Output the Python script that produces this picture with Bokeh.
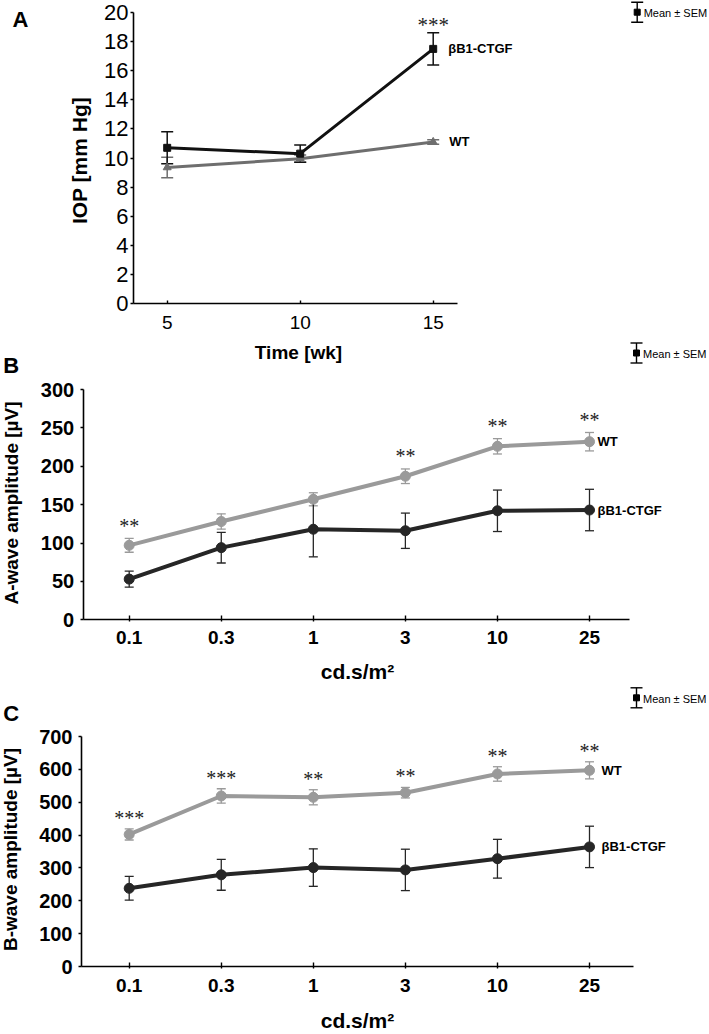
import math
from bokeh.plotting import figure
from bokeh.models import Range1d, LinearAxis, FixedTicker, ColumnDataSource, Whisker, TeeHead
from bokeh.core.properties import value
from bokeh.embed import file_html
from bokeh.resources import INLINE

FONT = "Liberation Sans"
STAR_FONT = "Liberation Serif"

# ---------------- data ----------------
weeks = [5, 10, 15]
iop_ctgf = [10.7, 10.3, 17.5]
iop_ctgf_sem = [1.1, 0.6, 1.1]
iop_wt = [9.35, 9.95, 11.1]
iop_wt_sem = [0.7, 0.25, 0.15]
iop_stars = ["", "", "***"]
iop_ticks = [0, 2, 4, 6, 8, 10, 12, 14, 16, 18, 20]

intensities = ["0.1", "0.3", "1", "3", "10", "25"]
awave_wt = [97, 128, 157, 187, 226, 232]
awave_wt_sem = [9, 10, 8.5, 9.5, 10, 12]
awave_ctgf = [53, 94, 118, 116, 142, 143]
awave_ctgf_sem = [10.5, 20, 36, 23, 27, 27]
awave_stars = ["**", "", "", "**", "**", "**"]
awave_ticks = [0, 50, 100, 150, 200, 250, 300]

bwave_wt = [402, 519, 515, 529, 586, 597]
bwave_wt_sem = [17, 22, 23, 16, 22, 26]
bwave_ctgf = [238, 279, 301, 294, 328, 364]
bwave_ctgf_sem = [36, 47, 57, 63, 59, 63]
bwave_stars = ["***", "***", "**", "**", "**", "**"]
bwave_ticks = [0, 100, 200, 300, 400, 500, 600, 700]

W, H = 709, 1034


class Panel:
    """Maps a panel's data space onto the full canvas (pixel anchors)."""
    def __init__(self, x_at, x_px, x_ppu, y0_px, y_ppu):
        self.x_at, self.x_px, self.x_ppu = x_at, x_px, x_ppu
        self.xs = x_at - x_px / x_ppu
        self.xe = self.xs + W / x_ppu
        self.ys = (y0_px - H) / y_ppu
        self.ye = y0_px / y_ppu

    def x(self, px):
        return self.x_at + (px - self.x_px) / self.x_ppu


gA = Panel(5, 166.7, 26.6, 303.0, 14.55)
gB = Panel(0, 128.7, 92.06, 619.3, 230.3 / 300)
gC = Panel(0, 128.7, 92.06, 966.0, 230.0 / 700)

p = figure(width=W, height=H, x_range=Range1d(gA.xs, gA.xe), y_range=Range1d(gA.ys, gA.ye),
           output_backend="svg", toolbar_location=None,
           min_border_left=0, min_border_right=0, min_border_top=0, min_border_bottom=0)
p.extra_x_ranges = {"xB": Range1d(gB.xs, gB.xe), "xC": Range1d(gC.xs, gC.xe), "px": Range1d(0, W)}
p.extra_y_ranges = {"yB": Range1d(gB.ys, gB.ye), "yC": Range1d(gC.ys, gC.ye), "py": Range1d(0, H)}
p.outline_line_color = None
p.grid.visible = False


def style_axis(ax, size, bold):
    ax.axis_line_width = 1.6
    ax.axis_line_color = "black"
    ax.major_tick_line_width = 1.4
    ax.major_tick_line_color = "black"
    ax.minor_tick_line_color = None
    ax.major_label_text_color = "black"
    ax.major_label_text_font = FONT
    ax.major_label_text_font_size = size
    ax.major_label_text_font_style = "bold" if bold else "normal"


# ---- axes of panel A (default ranges) ----
axAx = p.xaxis[0]
axAy = p.yaxis[0]
axAx.fixed_location = 0
axAy.fixed_location = gA.x(133)
axAx.bounds = (gA.x(133), 15.91)
axAy.bounds = (0, 20)
axAx.ticker = FixedTicker(ticks=weeks)
axAy.ticker = FixedTicker(ticks=iop_ticks)
style_axis(axAx, "19px", False)
style_axis(axAy, "22px", False)
axAx.major_tick_in, axAx.major_tick_out, axAx.major_label_standoff = 3, 0, 12
axAy.major_tick_in, axAy.major_tick_out, axAy.major_label_standoff = 0, 3, 2


def erg_axes(xr, yr, g, x_left_px, x_right_px, ticks, xstand):
    idx = list(range(len(intensities)))
    ax = LinearAxis(x_range_name=xr, y_range_name=yr, fixed_location=0,
                    bounds=(g.x(x_left_px), g.x(x_right_px)), ticker=FixedTicker(ticks=idx),
                    major_label_overrides={i: s for i, s in zip(idx, intensities)})
    ay = LinearAxis(x_range_name=xr, y_range_name=yr, fixed_location=g.x(x_left_px),
                    bounds=(0, ticks[-1]), ticker=FixedTicker(ticks=ticks))
    style_axis(ax, "19px", True)
    style_axis(ay, "20px", True)
    ax.major_tick_in, ax.major_tick_out, ax.major_label_standoff = 4, 2, xstand
    ay.major_tick_in, ay.major_tick_out, ay.major_label_standoff = 0, 3, 6
    p.add_layout(ax, "below")
    p.add_layout(ay, "left")


erg_axes("xB", "yB", gB, 82.7, 629.3, awave_ticks, 9)
erg_axes("xC", "yC", gC, 81.0, 633.3, bwave_ticks, 10)


# ---------------- helpers ----------------
def errorbars(xs, ys, sems, color, cap, lw, xr="default", yr="default"):
    src = ColumnDataSource(dict(x=xs, upper=[a + b for a, b in zip(ys, sems)],
                                lower=[a - b for a, b in zip(ys, sems)]))
    w = Whisker(source=src, base="x", upper="upper", lower="lower", dimension="height",
                line_color=color, line_width=lw, x_range_name=xr, y_range_name=yr,
                upper_head=TeeHead(size=cap, line_color=color, line_width=lw),
                lower_head=TeeHead(size=cap, line_color=color, line_width=lw))
    p.add_layout(w)


def ptext(px, py, txt, size, bold=True, align="center", baseline="middle", angle=0.0, font=FONT):
    p.text(x=[px], y=[H - py], text=[txt], x_range_name="px", y_range_name="py",
           text_font=value(font), text_font_size=size,
           text_font_style="bold" if bold else "normal", text_align=align,
           text_baseline=baseline, angle=angle, text_color="black")


def legend_icon(px, py):
    h = 10
    kw = dict(x_range_name="px", y_range_name="py", line_color="black", line_width=1.4)
    p.segment(x0=[px], y0=[H - py + h], x1=[px], y1=[H - py - h], **kw)
    p.segment(x0=[px - 6, px - 6], y0=[H - py + h, H - py - h],
              x1=[px + 6, px + 6], y1=[H - py + h, H - py - h], **kw)
    p.scatter(x=[px], y=[H - py], marker="square", size=6, color="black",
              x_range_name="px", y_range_name="py")
    ptext(px + 6.5, py + 1, "Mean ± SEM", "11px", bold=False, align="left")


def series_label(x, y, txt, dx, xr, yr):
    p.text(x=[x], y=[y], text=[txt], x_range_name=xr, y_range_name=yr,
           text_font=value(FONT), text_font_size="13px", text_font_style="bold",
           text_baseline="middle", text_align="left", x_offset=dx, text_color="black")


def stars(xs, tops, marks, size, dy, xr, yr):
    p.text(x=xs, y=tops, text=marks, x_range_name=xr, y_range_name=yr,
           text_font=value(STAR_FONT), text_font_size=size, text_baseline="alphabetic",
           text_align="center", y_offset=dy, text_color="#222222")


# ---------------- panel A ----------------
CA_WT = "#6e6e6e"
CA_TG = "#111111"
p.line(weeks, iop_wt, line_color=CA_WT, line_width=3)
p.scatter(weeks, iop_wt, marker="triangle", size=8, color=CA_WT)
errorbars(weeks, iop_wt, iop_wt_sem, CA_WT, 12, 1.5)
p.line(weeks, iop_ctgf, line_color=CA_TG, line_width=3)
p.scatter(weeks, iop_ctgf, marker="square", size=7, color=CA_TG)
errorbars(weeks, iop_ctgf, iop_ctgf_sem, CA_TG, 12, 1.5)
series_label(weeks[-1], iop_ctgf[-1], "βB1-CTGF", 15, "default", "default")
series_label(weeks[-1], iop_wt[-1], "WT", 16, "default", "default")
stars(weeks, [a + b for a, b in zip(iop_ctgf, iop_ctgf_sem)], iop_stars, "21px", -8,
      "default", "default")
ptext(20, 18.5, "A", "22px")
ptext(79, 160, "IOP [mm Hg]", "21px", angle=math.pi / 2)
ptext(298, 351.5, "Time [wk]", "19px")
legend_icon(636.7, 11.7)

# ---------------- panels B and C ----------------
C_WT = "#9a9a9a"
C_TG = "#262626"


def erg(xr, yr, wt, wt_sem, tg, tg_sem, marks, star_dy, lab_dx):
    idx = list(range(len(intensities)))
    p.line(idx, wt, line_color=C_WT, line_width=4, x_range_name=xr, y_range_name=yr)
    p.scatter(idx, wt, marker="circle", size=10, color=C_WT, x_range_name=xr, y_range_name=yr)
    errorbars(idx, wt, wt_sem, C_WT, 9, 1.3, xr, yr)
    p.line(idx, tg, line_color=C_TG, line_width=4, x_range_name=xr, y_range_name=yr)
    p.scatter(idx, tg, marker="circle", size=10, color=C_TG, x_range_name=xr, y_range_name=yr)
    errorbars(idx, tg, tg_sem, C_TG, 9, 1.3, xr, yr)
    series_label(idx[-1], wt[-1], "WT", lab_dx, xr, yr)
    series_label(idx[-1], tg[-1], "βB1-CTGF", lab_dx, xr, yr)
    stars(idx, [a + b for a, b in zip(wt, wt_sem)], marks, "20px", star_dy, xr, yr)


erg("xB", "yB", awave_wt, awave_wt_sem, awave_ctgf, awave_ctgf_sem, awave_stars, -12.5, 8)
ptext(10.8, 364.5, "B", "22px")
ptext(10.5, 502.5, "A-wave amplitude [µV]", "19px", angle=math.pi / 2)
ptext(357, 671, "cd.s/m²", "21px")
legend_icon(636, 352.5)

erg("xC", "yC", bwave_wt, bwave_wt_sem, bwave_ctgf, bwave_ctgf_sem, bwave_stars, -11, 12)
ptext(10.8, 712.5, "C", "22px")
ptext(9.5, 849, "B-wave amplitude [µV]", "19px", angle=math.pi / 2)
ptext(357, 1020, "cd.s/m²", "21px")
legend_icon(636, 697.3)

open("out.html", "w").write(file_html(p, INLINE))
